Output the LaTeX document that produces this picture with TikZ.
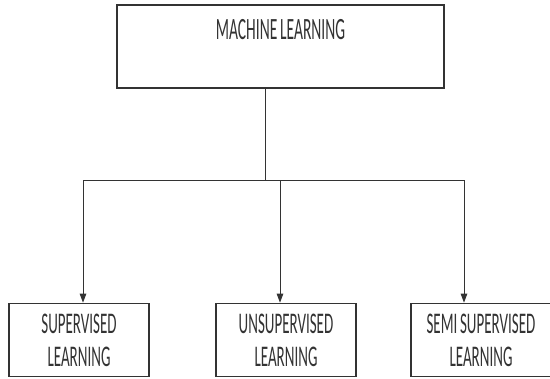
\documentclass[tikz,border=0pt]{standalone}
\usepackage{fontspec}
\setmainfont[FakeStretch=0.5, WordSpace=0.8]{Carlito}
\usetikzlibrary{arrows.meta}

\begin{document}
\begin{tikzpicture}[x=1pt, y=-1pt,
    box/.style={draw=black!80, line width=1.6pt, minimum width=140pt, minimum height=73pt,
                inner sep=0pt, align=center, text=black!80, font=\fontsize{30}{33}\selectfont},
    conn/.style={draw=black!80, line width=1pt},
    arr/.style={conn, -{Triangle[length=9pt,width=6.5pt]}}]
    \useasboundingbox (0,0) rectangle (550,379);
    %
    \node[box, minimum width=327pt, text height=35pt, text depth=48pt,
          font=\fontsize{31}{33}\selectfont] (ml) at (280.5,46.5) {MACHINE LEARNING};
    %
    \node[box] (sup)  at (79,340)  {SUPERVISED\\LEARNING};
    \node[box] (unsup) at (286,340) {UNSUPERVISED\\LEARNING};
    \node[box] (semi) at (481,340) {SEMI SUPERVISED\\LEARNING};
    %
    \coordinate (split) at (265,181);
    \draw[conn] (ml.south -| split) -- (split);
    \draw[arr] (split) -| ([xshift=4pt]sup.north);
    \draw[arr] (split) -| ([xshift=-6pt]unsup.north);
    \draw[arr] (split) -| ([xshift=-17pt]semi.north);
\end{tikzpicture}
\end{document}
